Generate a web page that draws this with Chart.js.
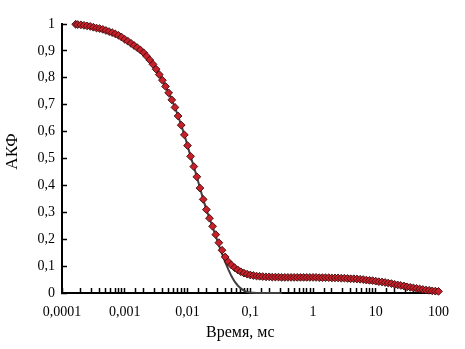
<!DOCTYPE html>
<html>
<head>
<meta charset="utf-8">
<script src="https://cdn.jsdelivr.net/npm/chart.js@4/dist/chart.umd.min.js"></script>
<style>
html,body{margin:0;padding:0;background:#fff;}
#wrap{width:465px;height:349px;}
</style>
</head>
<body>
<div id="wrap"><canvas id="c" width="465" height="349"></canvas></div>
<script>
// Time lags, ms
const times = [0.000165,0.000178,0.0002,0.000224,0.000251,0.000282,0.000316,0.000355,0.000398,0.000447,0.000501,0.000562,0.000631,0.000708,0.000794,0.000891,
  0.001,0.00112,0.00126,0.00141,0.00158,0.00178,0.002,0.00224,0.00251,0.00282,0.00316,0.00355,0.00398,0.00447,0.00501,0.00562,0.00631,0.00708,0.00794,0.00891,
  0.01,0.0112,0.0126,0.0141,0.0158,0.0178,0.02,0.0224,0.0251,0.0282,0.0316,0.0355,0.0398,0.0447,0.0501,0.0562,0.0631,0.0708,0.0794,0.0891,
  0.1,0.112,0.126,0.141,0.158,0.178,0.2,0.224,0.251,0.282,0.316,0.355,0.398,0.447,0.501,0.562,0.631,0.708,0.794,0.891,
  1,1.12,1.26,1.41,1.58,1.78,2,2.24,2.51,2.82,3.16,3.55,3.98,4.47,5.01,5.62,6.31,7.08,7.94,8.91,
  10,11.2,12.6,14.1,15.8,17.8,20,22.4,25.1,28.2,31.6,35.5,39.8,44.7,50.1,56.2,63.1,70.8,79.4,89.1,100];

// Measured autocorrelation function (red diamonds)
const acf = [0.999,0.998,0.997,0.995,0.993,0.991,0.988,0.985,0.983,0.980,0.976,0.972,0.968,0.963,0.958,0.951,
  0.943,0.936,0.928,0.920,0.912,0.903,0.893,0.880,0.866,0.850,0.832,0.812,0.791,0.768,0.744,0.718,0.690,0.658,0.624,0.588,
  0.548,0.508,0.470,0.432,0.390,0.348,0.310,0.278,0.248,0.217,0.187,0.159,0.134,0.116,0.104,0.094,0.086,0.079,0.074,0.070,
  0.067,0.065,0.063,0.062,0.061,0.060,0.060,0.059,0.059,0.059,0.058,0.058,0.058,0.058,0.058,0.058,0.058,0.058,0.058,0.058,
  0.058,0.058,0.057,0.057,0.057,0.057,0.056,0.056,0.056,0.055,0.055,0.054,0.053,0.053,0.052,0.051,0.050,0.048,0.047,0.046,
  0.044,0.042,0.041,0.039,0.037,0.035,0.032,0.030,0.028,0.026,0.023,0.021,0.019,0.017,0.015,0.013,0.011,0.010,0.008,0.007,0.006];

// Fitted curve (dark line), same time lags up to 0.316 ms
const fit = [0.999,0.998,0.997,0.995,0.993,0.991,0.988,0.985,0.983,0.980,0.976,0.972,0.968,0.963,0.958,0.951,
  0.943,0.936,0.928,0.920,0.912,0.903,0.893,0.880,0.866,0.850,0.832,0.812,0.791,0.768,0.744,0.718,0.690,0.658,0.624,0.588,
  0.548,0.508,0.470,0.432,0.390,0.348,0.310,0.278,0.246,0.212,0.178,0.146,0.116,0.088,0.063,0.043,0.028,0.017,0.009,0.004,
  0.002,0.001,0,0,0,0,0,0,0,0,0];

const xTickLabels = ['0,0001','0,001','0,01','0,1','1','10','100'];
const yTickLabels = ['0','0,1','0,2','0,3','0,4','0,5','0,6','0,7','0,8','0,9','1'];
const xTitle = 'Время, мс';
const yTitle = 'АКФ';

const serif = "'Liberation Serif','Times New Roman',serif";

const acfPoints = times.map((t, i) => ({x: t, y: acf[i]}));
const fitPoints = fit.map((v, i) => ({x: times[i], y: v}));

// Axis titles placed relative to the chart area (as in the original, slightly off-centre)
const axisTitles = {
  id: 'axisTitles',
  afterDraw(chart) {
    const {ctx, chartArea} = chart;
    ctx.save();
    ctx.fillStyle = '#000';
    ctx.textAlign = 'center';
    ctx.textBaseline = 'middle';
    ctx.font = "16px " + serif;
    ctx.fillText(xTitle, (chartArea.left + chartArea.right) / 2 - 10, chartArea.bottom + 40);
    ctx.font = "17px " + serif;
    ctx.translate(13, (chartArea.top + chartArea.bottom) / 2 - 7);
    ctx.rotate(-Math.PI / 2);
    ctx.fillText(yTitle, 0, 0);
    ctx.restore();
  }
};

new Chart(document.getElementById('c'), {
  type: 'scatter',
  data: {
    datasets: [
      {
        type: 'line',
        data: fitPoints,
        showLine: true,
        borderColor: '#404040',
        borderWidth: 2,
        pointRadius: 0,
        fill: false,
        tension: 0,
        order: 2,
        clip: false
      },
      {
        data: acfPoints,
        pointStyle: 'rectRot',
        pointRadius: 3.9,
        backgroundColor: '#C8202B',
        borderColor: '#3a0c0c',
        borderWidth: 0.9,
        order: 1,
        clip: false
      }
    ]
  },
  options: {
    responsive: false,
    animation: false,
    events: [],
    layout: {padding: {left: 0, right: 23, top: 24, bottom: 0}},
    plugins: {legend: {display: false}, tooltip: {enabled: false}},
    scales: {
      x: {
        type: 'logarithmic',
        position: 'bottom',
        min: 0.0001,
        max: 100,
        border: {display: true, color: '#000', width: 2},
        grid: {display: true, drawOnChartArea: false, drawTicks: true, tickLength: -5, tickColor: '#000', tickWidth: 1.5},
        ticks: {
          autoSkip: false, maxRotation: 0, minRotation: 0, padding: 16, color: '#000',
          font: {family: serif, size: 14},
          callback: function(v) {
            const l = Math.log10(v);
            if (Math.abs(l - Math.round(l)) < 1e-6) {
              const idx = Math.round(l) + 4;
              return xTickLabels[idx] !== undefined ? xTickLabels[idx] : '';
            }
            return '';
          }
        },
        title: {display: false},
        afterFit: function(s) { s.height = 56; }
      },
      y: {
        type: 'linear',
        min: 0,
        max: 1,
        border: {display: true, color: '#000', width: 2},
        grid: {display: true, drawOnChartArea: false, drawTicks: true, tickLength: -5, tickColor: '#000', tickWidth: 1.5},
        ticks: {
          stepSize: 0.1, padding: 12, color: '#000',
          font: {family: serif, size: 14},
          callback: function(v) { const k = Math.round(v * 10); return yTickLabels[k] !== undefined ? yTickLabels[k] : ''; }
        },
        title: {display: false},
        afterFit: function(s) { s.width = 62; }
      }
    }
  },
  plugins: [axisTitles]
});
</script>
</body>
</html>
